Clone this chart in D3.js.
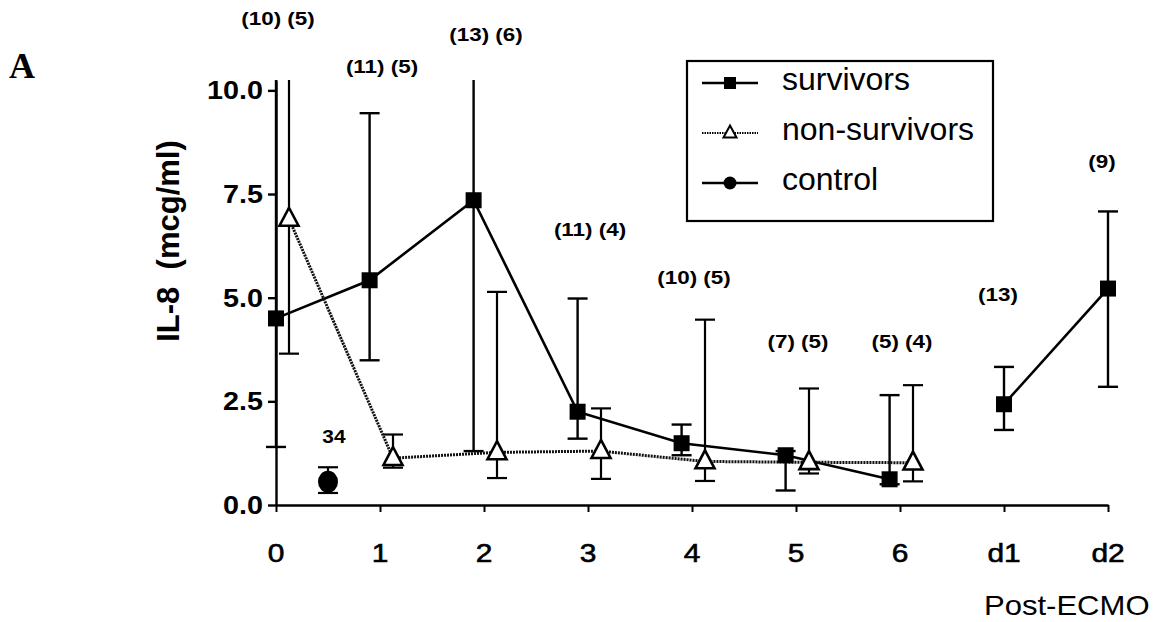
<!DOCTYPE html>
<html>
<head>
<meta charset="utf-8">
<script src="https://cdn.jsdelivr.net/npm/d3@7"></script>
<style>
  html, body { margin: 0; padding: 0; background: #fff; }
  svg { display: block; }
  text { font-family: "Liberation Sans", Arial, Helvetica, sans-serif; fill: #000; }
</style>
</head>
<body>
<svg id="chart" width="1162" height="622"></svg>
<script>
// IL-8 concentration during ECMO (days 0-6) and post-ECMO (d1, d2)
const categories = ["0", "1", "2", "3", "4", "5", "6", "d1", "d2"];
const yTicks = [0, 2.5, 5, 7.5, 10];

// survivors: mean with upper / lower error limits, one per category
const survivorsMean = [4.5, 5.42, 7.35, 2.25, 1.49, 1.2, 0.62, 2.43, 5.22];
const survivorsHigh = [10.25, 9.45, 10.25, 4.98, 1.94, 1.3, 2.65, 3.33, 7.08];
const survivorsLow  = [1.4, 3.49, 1.3, 1.6, 1.2, 0.35, 0.5, 1.81, 2.85];

// non-survivors: days 0-6 only
const nonSurvivorsMean = [6.9, 1.13, 1.27, 1.3, 1.05, 1.03, 1.02];
const nonSurvivorsHigh = [10.25, 1.7, 5.14, 2.33, 4.47, 2.81, 2.89];
const nonSurvivorsLow  = [3.65, 0.9, 0.65, 0.63, 0.58, 0.76, 0.57];

// control group
const controlMean = [0.56];
const controlHigh = [0.91];
const controlLow  = [0.29];
const controlN    = ["34"];

// sample sizes per category and the level (mcg/ml) where each note sits
const sampleLabels = ["(10) (5)", "(11) (5)", "(13) (6)", "(11) (4)", "(10) (5)", "(7) (5)", "(5) (4)", "(13)", "(9)"];
const sampleLabelLevel = [11.57, 10.41, 11.18, 6.48, 5.33, 3.78, 3.78, 4.92, 8.12];

const svg = d3.select("#chart");
const yMax = 10.25;

const x = d3.scaleLinear().domain([0, categories.length - 1]).range([276, 1108]);
const y = d3.scaleLinear().domain([0, yMax]).range([505, 80]);

const txtStretch = 1.15; // printed lettering is wider than tall

// helper: horizontally stretched text anchored at (px, py)
function label(g, px, py, str, opts) {
  const t = g.append("text")
    .attr("transform", `translate(${px},${py}) scale(${opts.sx || 1},1)`)
    .attr("text-anchor", opts.anchor || "middle")
    .style("font-size", opts.size + "px")
    .style("font-weight", opts.weight || "normal")
    .text(str);
  if (opts.family) t.style("font-family", opts.family);
  return t;
}

// dodge: survivors sit slightly left of day ticks during ECMO, non-survivors to the right
const survX = i => x(i + (i >= 1 && i <= 6 ? -0.1 : 0));
const nonX = i => x(i + 0.125);
const controlX = x(0.5);

// ---- axes ----
const yAxis = d3.axisLeft(y).tickValues(yTicks).tickSize(8).tickSizeOuter(0).tickFormat("");
const gy = svg.append("g").attr("transform", `translate(${x(0)},0)`).call(yAxis);
gy.select(".domain").attr("stroke", "#000").attr("stroke-width", 2.4);
gy.selectAll(".tick line").attr("stroke", "#000").attr("stroke-width", 2.4);
yTicks.forEach(v => {
  label(svg, x(0) - 13, y(v) + 9, d3.format(".1f")(v), { size: 25, weight: "bold", anchor: "end", sx: txtStretch });
});

const xAxis = d3.axisBottom(x).tickValues(d3.range(categories.length)).tickSize(7).tickSizeOuter(0).tickFormat("");
const gx = svg.append("g").attr("transform", `translate(0,${y(0)})`).call(xAxis);
gx.select(".domain").attr("stroke", "#000").attr("stroke-width", 2.4);
gx.selectAll(".tick line").attr("stroke", "#000").attr("stroke-width", 2);
categories.forEach((c, i) => {
  label(svg, x(i), 562, c, { size: 26, sx: txtStretch }).style("stroke", "#000").style("stroke-width", 0.6);
});

// axis titles and panel letter
svg.append("text")
  .attr("transform", `translate(179,241) rotate(-90)`)
  .attr("text-anchor", "middle")
  .style("font-size", "31px")
  .style("font-weight", "bold")
  .style("white-space", "pre")
  .text("IL-8  (mcg/ml)");

label(svg, 984, 615, "Post-ECMO", { size: 27, anchor: "start", sx: txtStretch });
label(svg, 9, 78, "A", { size: 36, weight: "bold", anchor: "start", family: "'Liberation Serif', 'Times New Roman', serif" });

// ---- error bars ----
function errorBar(cx, mean, hi, lo, width) {
  const g = svg.append("g").attr("stroke", "#000").attr("stroke-width", width || 2.2);
  const top = Math.min(hi, yMax);
  g.append("line").attr("x1", cx).attr("x2", cx).attr("y1", y(lo)).attr("y2", y(top));
  if (hi < yMax) g.append("line").attr("x1", cx - 10).attr("x2", cx + 10).attr("y1", y(hi)).attr("y2", y(hi));
  g.append("line").attr("x1", cx - 10).attr("x2", cx + 10).attr("y1", y(lo)).attr("y2", y(lo));
}
survivorsMean.forEach((m, i) => errorBar(survX(i), m, survivorsHigh[i], survivorsLow[i], 2.4));
nonSurvivorsMean.forEach((m, i) => errorBar(nonX(i), m, nonSurvivorsHigh[i], nonSurvivorsLow[i], 2.2));
controlMean.forEach((m, i) => errorBar(controlX, m, controlHigh[i], controlLow[i], 2.2));

// ---- lines ----
const ecmoDays = d3.range(7);
const postDays = [7, 8];

const survLine = d3.line().x(i => survX(i)).y(i => y(survivorsMean[i]));
svg.append("path").datum(ecmoDays).attr("d", survLine)
  .attr("fill", "none").attr("stroke", "#000").attr("stroke-width", 2.6);
svg.append("path").datum(postDays).attr("d", survLine)
  .attr("fill", "none").attr("stroke", "#000").attr("stroke-width", 2.6);

const nonLine = d3.line().x(i => nonX(i)).y(i => y(nonSurvivorsMean[i]));
svg.append("path").datum(ecmoDays).attr("d", nonLine)
  .attr("fill", "none").attr("stroke", "#111").attr("stroke-width", 3)
  .attr("stroke-dasharray", "2,1");

// ---- markers ----
const sq = 16;
svg.append("g").selectAll("rect").data(survivorsMean).join("rect")
  .attr("x", (d, i) => survX(i) - sq / 2).attr("y", d => y(d) - sq / 2)
  .attr("width", sq).attr("height", sq).attr("fill", "#000");

const tri = (cx, cy, w, h) => `M${cx},${cy - h * 0.62}L${cx + w / 2},${cy + h * 0.38}L${cx - w / 2},${cy + h * 0.38}Z`;
svg.append("g").selectAll("path").data(nonSurvivorsMean).join("path")
  .attr("d", (d, i) => tri(nonX(i), y(d), 19, 18))
  .attr("fill", "#fff").attr("stroke", "#000").attr("stroke-width", 2.6)
  .attr("stroke-linejoin", "miter");

svg.append("g").selectAll("ellipse").data(controlMean).join("ellipse")
  .attr("cx", controlX).attr("cy", d => y(d)).attr("rx", 10).attr("ry", 11).attr("fill", "#000");

// ---- sample size notes ----
sampleLabels.forEach((s, i) => {
  const cx = i <= 6 ? x(i) + 2 : x(i) - 6;
  label(svg, cx, y(sampleLabelLevel[i]), s, { size: 19, weight: "bold", sx: 1.18 });
});
controlN.forEach((n, i) => {
  label(svg, controlX + 6, y(controlHigh[i]) - 24, n, { size: 19, weight: "bold", sx: 1.1 });
});

// ---- legend ----
const lg = svg.append("g");
lg.append("rect").attr("x", 687).attr("y", 61).attr("width", 306).attr("height", 160)
  .attr("fill", "#fff").attr("stroke", "#000").attr("stroke-width", 2.2);
const legendRows = ["survivors", "non-survivors", "control"];
legendRows.forEach((name, k) => {
  const cy = 83 + k * 50;
  const line = lg.append("line").attr("x1", 702).attr("x2", 758).attr("y1", cy).attr("y2", cy)
    .attr("stroke", "#000").attr("stroke-width", k === 1 ? 2 : 2.4);
  if (k === 1) line.attr("stroke-dasharray", "1.5,1");
  if (k === 0) lg.append("rect").attr("x", 724).attr("y", cy - 6).attr("width", 12).attr("height", 12).attr("fill", "#000");
  if (k === 1) lg.append("path").attr("d", tri(730, cy, 13, 12)).attr("fill", "#fff").attr("stroke", "#000").attr("stroke-width", 2);
  if (k === 2) lg.append("circle").attr("cx", 730).attr("cy", cy).attr("r", 6.5).attr("fill", "#000");
  lg.append("text").attr("x", 782).attr("y", cy + 7)
    .style("font-size", "32px").text(name);
});
</script>
</body>
</html>
